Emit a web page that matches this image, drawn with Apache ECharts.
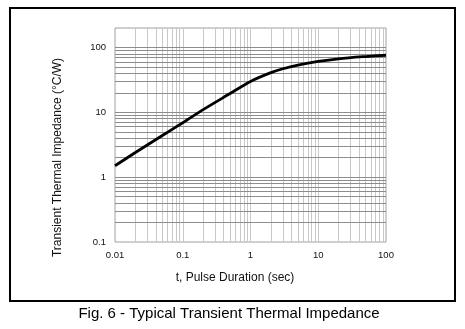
<!DOCTYPE html>
<html><head><meta charset="utf-8">
<script src="https://cdn.jsdelivr.net/npm/echarts@6/dist/echarts.min.js"></script>
<style>html,body{margin:0;padding:0;background:#fff}#c{width:465px;height:329px}</style>
</head><body><div id="c"></div>
<script>
// Data
const pulseDuration = [0.01, 0.02, 0.05, 0.1, 0.2, 0.5, 1, 2, 3, 5, 10, 20, 50, 100];
const impedance     = [1.5, 2.4, 4.4, 6.9, 11, 19.5, 30, 41, 47, 53.5, 61, 67, 72.5, 76];
const xTickLabels = ['0.01', '0.1', '1', '10', '100'];
const yTickLabels = ['0.1', '1', '10', '100'];
const xGridValues = [0.02,0.03,0.04,0.05,0.06,0.07,0.08,0.09,0.1,
                     0.2,0.3,0.4,0.5,0.6,0.7,0.8,0.9,1,
                     2,3,4,5,6,7,8,9,10,
                     20,30,40,50,60,70,80,90];
const yGridValues = [0.2,0.3,0.4,0.5,0.6,0.7,0.8,0.9,1,
                     2,3,4,5,6,7,8,9,10,
                     20,30,40,50,60,70,80,90,100];
const xTitle = 't, Pulse Duration (sec)';
const yTitle = 'Transient Thermal Impedance (\u00B0C/W)';
const caption = 'Fig. 6 - Typical Transient Thermal Impedance';

const FONT = 'Liberation Sans, Arial, sans-serif';
function fmt(list) {
  return function (v) {
    for (const s of list) { if (Math.abs(Math.log10(v) - Math.log10(parseFloat(s))) < 1e-6) return s; }
    return '';
  };
}
const chart = echarts.init(document.getElementById('c'), null, {renderer: 'canvas'});
chart.setOption({
  animation: false,
  backgroundColor: '#fff',
  grid: {left: 115, right: 79, top: 28, bottom: 87, show: true, borderColor: '#a0a0a0', borderWidth: 1},
  xAxis: {
    type: 'log', logBase: 10, min: 0.01, max: 100,
    axisLine: {show: false}, axisTick: {show: false}, splitLine: {show: false},
    axisLabel: {formatter: fmt(xTickLabels), fontFamily: FONT, fontSize: 9.5, color: '#111', margin: 8, showMinLabel: true, showMaxLabel: true}
  },
  yAxis: {
    type: 'log', logBase: 10, min: 0.1, max: 200,
    axisLine: {show: false}, axisTick: {show: false}, splitLine: {show: false},
    axisLabel: {formatter: fmt(yTickLabels), fontFamily: FONT, fontSize: 9.5, color: '#111', margin: 9}
  },
  series: [
    {
      type: 'line', data: [], silent: true, z: 1,
      markLine: {
        silent: true, symbol: ['none', 'none'], label: {show: false}, animation: false,
        lineStyle: {color: '#c8c8c8', width: 1, type: 'solid'},
        data: xGridValues.map(v => ({xAxis: v}))
      }
    },
    {
      type: 'line', data: [], silent: true, z: 2,
      markLine: {
        silent: true, symbol: ['none', 'none'], label: {show: false}, animation: false,
        lineStyle: {color: '#8c8c8c', width: 1, type: 'solid'},
        data: yGridValues.map(v => ({yAxis: v}))
      }
    },
    {
      type: 'line', z: 5, smooth: 0.3, showSymbol: false, symbol: 'none',
      lineStyle: {color: '#000', width: 2.8},
      data: pulseDuration.map((x, i) => [x, impedance[i]])
    }
  ],
  graphic: [
    {type: 'rect', shape: {x: 10, y: 8, width: 445, height: 293}, style: {fill: 'none', stroke: '#000', lineWidth: 2}, z: 100},
    {type: 'text', x: 235, y: 278, style: {text: xTitle, font: '12px ' + FONT, fill: '#111', align: 'center', verticalAlign: 'middle'}},
    {type: 'text', x: 57.5, y: 157.5, rotation: Math.PI / 2, style: {text: yTitle, font: '12px ' + FONT, fill: '#111', align: 'center', verticalAlign: 'middle'}},
    {type: 'text', x: 229, y: 313.5, style: {text: caption, font: '15px ' + FONT, fill: '#000', align: 'center', verticalAlign: 'middle'}}
  ]
});
</script></body></html>
